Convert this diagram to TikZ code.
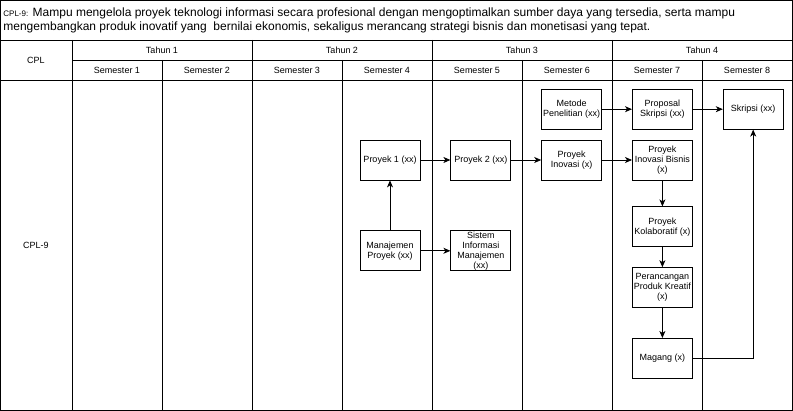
\documentclass[tikz,border=0pt]{standalone}
\usepackage{fontspec}
\setmainfont{Liberation Sans}
\usetikzlibrary{arrows.meta,positioning}

\begin{document}
\begin{tikzpicture}[x=1pt,y=-1pt,->,>={Stealth[length=7pt,width=6pt,inset=2pt]},
      node distance=30pt,line width=0.8pt,
      mk/.style={draw,minimum width=60pt,minimum height=40pt,inner sep=0pt,
        align=center,font=\fontsize{9}{10}\selectfont},
      head/.style={font=\fontsize{9}{10}\selectfont}]

    \useasboundingbox (0,0) rectangle (793,411);

    % tabel
    \draw[-] (0.5,0.5) rectangle (792.5,410.5);
    \draw[-] (0,40) -- (793,40);
    \draw[-] (72,60) -- (793,60);
    \draw[-] (0,80) -- (793,80);
    \foreach \x in {72,252,432,612} \draw[-] (\x,40) -- (\x,410.5);
    \foreach \x in {162,342,522,702} \draw[-] (\x,60) -- (\x,410.5);

    \node[anchor=base west,inner sep=0pt,font=\fontsize{12}{14}\selectfont] (judula) at (3,17)
      {{\fontsize{8}{9}\selectfont CPL-9:} Mampu mengelola proyek teknologi informasi secara profesional dengan mengoptimalkan sumber daya yang tersedia, serta mampu};
    \node[anchor=base west,inner sep=0pt,font=\fontsize{12}{14}\selectfont] (judulb) at (3,31)
      {mengembangkan produk inovatif yang\ \ bernilai ekonomis, sekaligus merancang strategi bisnis dan monetisasi yang tepat.};

    \node[head] (cpl) at (36,60) {CPL};
    \foreach \i in {1,...,4} \node[head] (th\i) at ({180*\i-18},50) {Tahun \i};
    \foreach \i in {1,...,8} \node[head] (sm\i) at ({90*\i+27},70) {Semester \i};
    \node[head] (cpl9) at (36,245) {CPL-9};

    \node[mk] (p1) at (390,160) {Proyek 1 (xx)};
    \node[mk] (p2) [right=of p1] {Proyek 2 (xx)};
    \node[mk] (inov) [right=of p2] {Proyek\\Inovasi (x)};
    \node[mk] (bisnis) [right=of inov] {Proyek\\Inovasi Bisnis\\(x)};
    \node[mk] (metode) [above=10pt of inov] {Metode\\Penelitian (xx)};
    \node[mk] (proposal) [right=of metode] {Proposal\\Skripsi (xx)};
    \node[mk] (skripsi) [right=of proposal] {Skripsi (xx)};
    \node[mk] (manpro) [below=50pt of p1] {Manajemen\\Proyek (xx)};
    \node[mk] (sim) [right=of manpro] {Sistem\\Informasi\\Manajemen\\(xx)};
    \node[mk] (kolab) [below=26pt of bisnis] {Proyek\\Kolaboratif (x)};
    \node[mk] (kreatif) [below=20pt of kolab] {Perancangan\\Produk Kreatif\\(x)};
    \node[mk] (magang) [below=30pt of kreatif] {Magang (x)};

    \path (p1) edge (p2)
    (p2) edge (inov)
    (manpro) edge (p1)
    edge (sim)
    (metode) edge (proposal)
    (inov) edge (bisnis)
    (proposal) edge (skripsi)
    (bisnis) edge (kolab)
    (kolab) edge (kreatif)
    (kreatif) edge (magang);
    \draw (magang) -| (skripsi);
  \end{tikzpicture}
\end{document}
